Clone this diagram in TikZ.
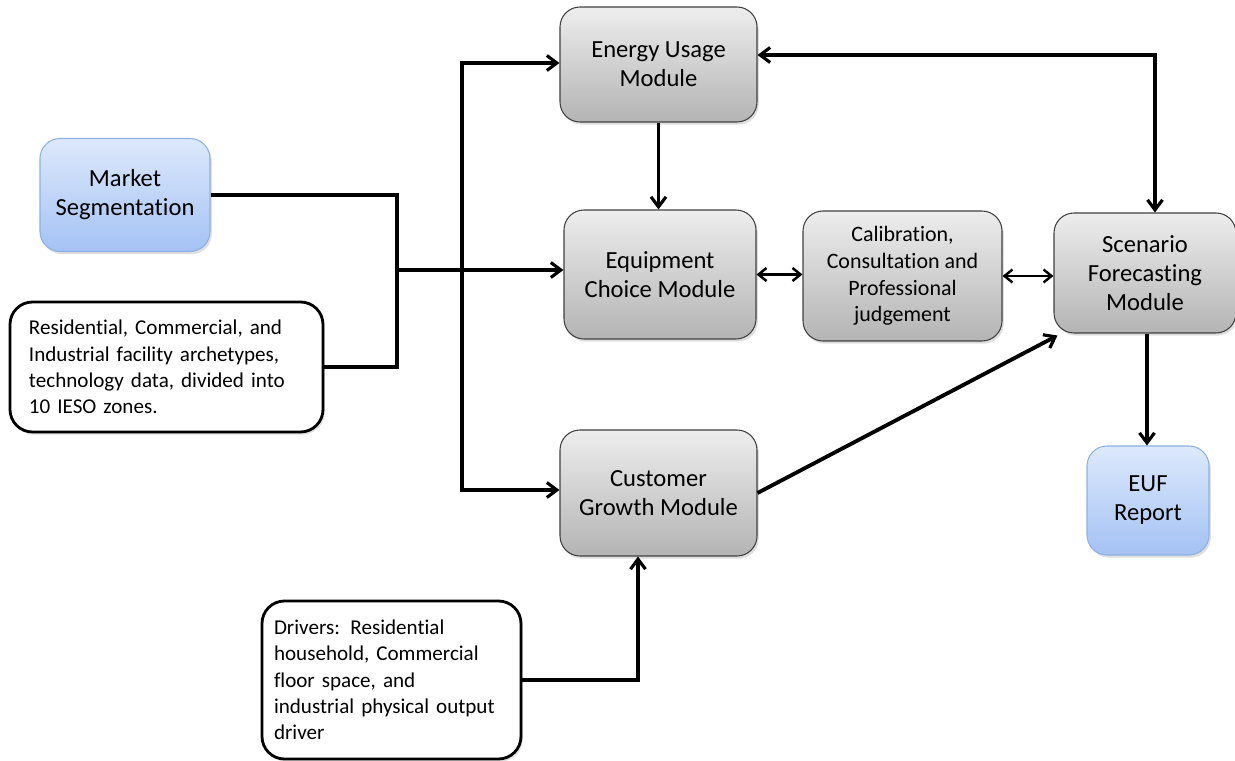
\documentclass[tikz,border=0pt]{standalone}
\usepackage{fontspec}
\setmainfont{Carlito}[RawFeature={-liga;-clig;-calt;-dlig}]
\usetikzlibrary{arrows.meta}
\usetikzlibrary{shadows}

\definecolor{BlueTop}	{HTML}{DDE9FC}
\definecolor{BlueBot}	{HTML}{A4C2F4}
\definecolor{BlueLine}	{HTML}{8DB1E2}
\definecolor{GrayTop}	{HTML}{EDEDED}
\definecolor{GrayBot}	{HTML}{B4B4B4}

\tikzset{
  module/.style={draw=black!75, line width=0.6pt, rounded corners=0.4cm, align=center,
    top color=GrayTop, bottom color=GrayBot, font=\fontsize{14}{16.5}\selectfont,
    drop shadow={opacity=0.25, shadow xshift=1pt, shadow yshift=-1.5pt}},
  endbox/.style={module, draw=BlueLine, top color=BlueTop, bottom color=BlueBot},
  databox/.style={draw=black, line width=1.6pt, rounded corners=0.45cm, fill=white, align=left,
    font=\fontsize{12}{15}\selectfont,
    drop shadow={opacity=0.25, shadow xshift=1pt, shadow yshift=-1.5pt}},
  conn/.style={line width=2.2pt, -{Straight Barb[length=0.2cm, width=0.3cm, line width=1.8pt]}},
  both/.style={line width=1.4pt, {Straight Barb[length=0.16cm, width=0.26cm]}-{Straight Barb[length=0.16cm, width=0.26cm]}},
}

\begin{document}
\begin{tikzpicture}[line join=miter]
\useasboundingbox (0,0) rectangle (24.7,-15.22);

% inputs
\node[endbox, minimum width=3.4cm, minimum height=2.26cm] (market) at (2.5,-3.9) {Market\\Segmentation};
\node[databox, minimum width=6.26cm, minimum height=2.6cm, text width=5.5cm] (res) at (3.33,-7.34)
  {Residential, Commercial, and\\Industrial facility archetypes,\\technology data, divided into\\10 IESO zones.};
\node[databox, minimum width=5.18cm, minimum height=3.16cm, text width=4.7cm] (drivers) at (7.83,-13.6)
  {Drivers: Residential\\household, Commercial\\floor space, and\\industrial physical output\\driver};

% modules
\node[module, minimum width=3.94cm, minimum height=2.3cm] (energy) at (13.17,-1.29) {Energy Usage\\Module};
\node[module, minimum width=3.84cm, minimum height=2.58cm] (equip) at (13.2,-5.49) {Equipment\\Choice Module};
\node[module, minimum width=3.98cm, minimum height=2.6cm, font=\fontsize{12.5}{15.2}\selectfont] (calib) at (18.05,-5.52)
  {Calibration,\\Consultation and\\Professional\\judgement};
\node[module, minimum width=3.64cm, minimum height=2.4cm] (scen) at (22.9,-5.46) {Scenario\\Forecasting\\Module};
\node[module, minimum width=3.94cm, minimum height=2.52cm] (growth) at (13.17,-9.86) {Customer\\Growth Module};
\node[endbox, minimum width=2.44cm, minimum height=2.18cm] (euf) at (22.96,-10.01) {EUF\\Report};

% joins
\coordinate (jn) at (7.94,-5.4);
\coordinate (sp) at (9.24,-5.4);

\draw[line width=2.2pt] (market.east) -| (jn);
\draw[line width=2.2pt] (res.east) -| (jn);
\draw[conn] (jn) -- (jn -| equip.west);
\draw[conn] (sp) |- ([yshift=0.03cm]energy.west);
\draw[conn] (sp) |- ([yshift=0.06cm]growth.west);
\draw[conn] (energy.south) -- (energy.south |- equip.north);
\draw[both] (equip.east) -- (equip.east -| calib.west);
\draw[both] (calib.east) -- (calib.east -| scen.west);
\draw[line width=2.2pt, {Straight Barb[length=0.2cm, width=0.3cm, line width=1.8pt]}-{Straight Barb[length=0.2cm, width=0.3cm, line width=1.8pt]}]
  ([yshift=0.19cm]energy.east) -| ([xshift=0.2cm]scen.north);
\draw[conn] (growth.east) -- ([shift={(0.08,-0.04)}]scen.south west);
\draw[conn] ([xshift=0.04cm]scen.south) -- ([xshift=0.04cm]scen.south |- euf.north);
\draw[conn] (drivers.east) -| ([xshift=-0.41cm]growth.south);

\end{tikzpicture}
\end{document}
